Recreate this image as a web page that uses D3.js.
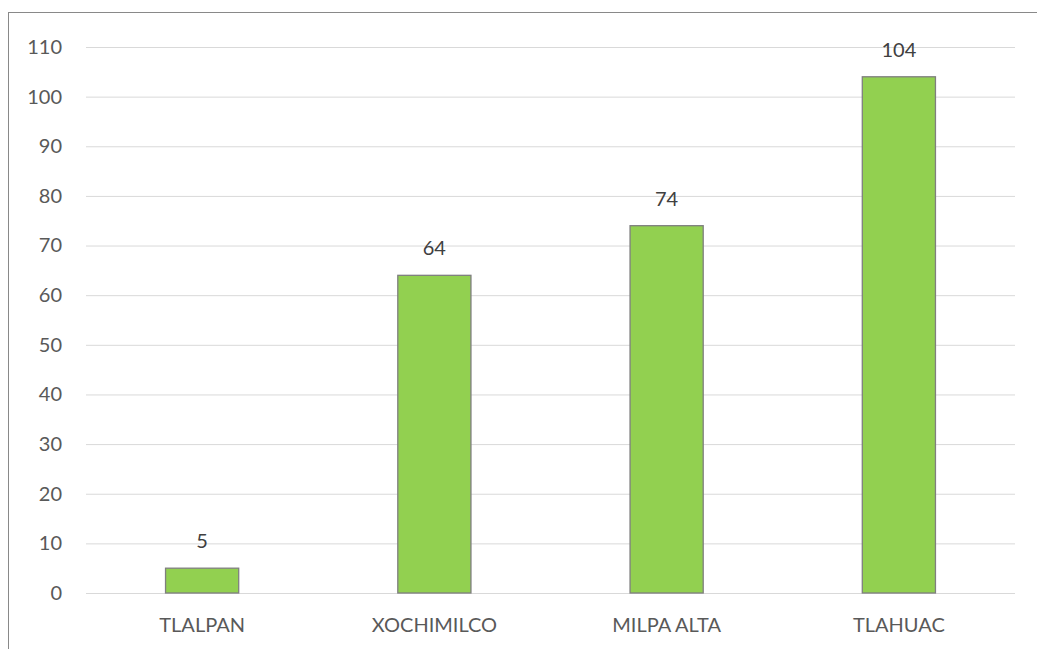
<!DOCTYPE html>
<html><head><meta charset="utf-8">
<script src="https://cdn.jsdelivr.net/npm/d3@7"></script>
<style>
html,body{margin:0;padding:0;background:#fff;}
svg{display:block;}
text{font-family:Lato, "Open Sans", sans-serif;}
</style></head>
<body>
<script>
const categories = ["TLALPAN", "XOCHIMILCO", "MILPA ALTA", "TLAHUAC"];
const values = [5, 64, 74, 104];
const yTicks = [0, 10, 20, 30, 40, 50, 60, 70, 80, 90, 100, 110];

const W = 1037, H = 649;
const svg = d3.select("body").append("svg").attr("width", W).attr("height", H);

// outer chart border (cut off at right and bottom)
svg.append("rect").attr("x", 8.5).attr("y", 12.5).attr("width", 1040).attr("height", 660)
  .attr("fill", "none").attr("stroke", "#898989").attr("stroke-width", 1);

const plot = {left: 86, right: 1015, top: 47, bottom: 593};
const x = d3.scaleBand().domain(categories).range([plot.left, plot.right]).padding(0);
const y = d3.scaleLinear().domain([0, 110]).range([plot.bottom, plot.top]);

const g = svg.append("g");
// gridlines
const yAxis = d3.axisLeft(y).tickValues(yTicks).tickSize(-(plot.right - plot.left)).tickPadding(24);
const ga = g.append("g").attr("transform", `translate(${plot.left},0)`).call(yAxis);
ga.select(".domain").remove();
ga.selectAll(".tick line").attr("stroke", "#d9d9d9").attr("stroke-width", 1);
ga.selectAll(".tick text").attr("fill", "#595959").style("font-size", "20px").attr("x", -24);

const barFrac = 0.315;
const bw = x.bandwidth() * barFrac;
g.selectAll("rect.bar").data(values).enter().append("rect").attr("class", "bar")
  .attr("x", (d, i) => x(categories[i]) + (x.bandwidth() - bw) / 2)
  .attr("y", d => y(d))
  .attr("width", bw)
  .attr("height", d => y(0) - y(d))
  .attr("fill", "#92d050").attr("stroke", "#7f7f7f").attr("stroke-width", 1.3);

// data labels
g.selectAll("text.lbl").data(values).enter().append("text").attr("class", "lbl")
  .attr("x", (d, i) => x(categories[i]) + x.bandwidth() / 2)
  .attr("y", d => y(d) - 20)
  .attr("text-anchor", "middle").attr("fill", "#404040").style("font-size", "20px")
  .text(d => d);

// x axis labels
const xAxis = d3.axisBottom(x).tickSize(0).tickPadding(0);
const gx = g.append("g").attr("transform", `translate(0,${plot.bottom})`).call(xAxis);
gx.select(".domain").remove();
gx.selectAll(".tick text").attr("fill", "#595959").style("font-size", "20px")
  .attr("dy", null).attr("y", 39);
</script>
</body></html>
